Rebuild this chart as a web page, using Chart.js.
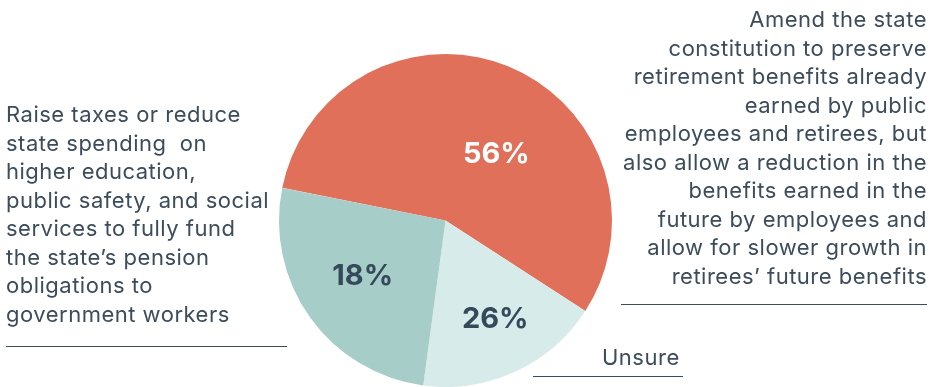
<!DOCTYPE html>
<html>
<head>
<meta charset="utf-8">
<script src="https://cdn.jsdelivr.net/npm/chart.js@4.4.1/dist/chart.umd.min.js"></script>
<style>
  html, body { margin: 0; padding: 0; background: #fff; }
  body { width: 939px; height: 387px; position: relative; overflow: hidden; font-family: 'Inter', sans-serif; color: #3c4c5b; }
  #wrap { position: absolute; left: 0; top: 0; width: 939px; height: 387px; }
  .note { position: absolute; font-size: 22px; line-height: 28.5px; letter-spacing: 0.5px; white-space: nowrap; }
  .rule { position: absolute; height: 0; border-top: 1.5px solid #3c4c5b; }
</style>
</head>
<body>
<div id="wrap"><canvas id="pieChart" width="939" height="387"></canvas></div>

<div class="note" id="noteLeft" style="left:6px; top:100px; text-align:left;"></div>
<div class="rule" style="left:6px; top:346px; width:281px;"></div>

<div class="note" id="noteRight" style="right:12px; top:5px; text-align:right;"></div>
<div class="rule" style="left:621px; top:304px; width:306px;"></div>

<div class="note" id="noteUnsure" style="left:602px; top:343px;"></div>
<div class="rule" style="left:533px; top:376px; width:150px;"></div>

<script>
// Slices in drawing order (clockwise from the upper left)
const categories = ['Amend the constitution', 'Unsure', 'Raise taxes or reduce spending'];
const shares = [56, 18, 26];
const sliceLabels = ['56%', '26%', '18%'];
const sliceColors = ['#e07059', '#d7ecea', '#a7cdc9'];
const labelColors = ['#ffffff', '#34495a', '#34495a'];

const noteLeftLines = [
    'Raise taxes or reduce',
    'state spending \u00a0on',
    'higher education,',
    'public safety, and social',
    'services to fully fund',
    'the state\u2019s pension',
    'obligations to',
    'government workers'
];
const noteRightLines = [
    'Amend the state',
    'constitution to preserve',
    'retirement benefits already',
    'earned by public',
    'employees and retirees, but',
    'also allow a reduction in the',
    'benefits earned in the',
    'future by employees and',
    'allow for slower growth in',
    'retirees\u2019 future benefits'
];
const noteUnsure = 'Unsure';

document.getElementById('noteLeft').innerHTML = noteLeftLines.join('<br>');
document.getElementById('noteRight').innerHTML = noteRightLines.join('<br>');
document.getElementById('noteUnsure').textContent = noteUnsure;

// label placement inside each slice: radius fraction and angle nudge (degrees)
const labelRadius = [0.5, 0.665, 0.6];
const labelNudge = [15.5, -2, 1.5];

const sliceLabelPlugin = {
    id: 'sliceLabels',
    afterDatasetsDraw(chart) {
        const ctx = chart.ctx;
        const meta = chart.getDatasetMeta(0);
        ctx.save();
        ctx.font = "bold 29px 'Inter', sans-serif";
        ctx.textAlign = 'center';
        ctx.textBaseline = 'middle';
        meta.data.forEach((arc, i) => {
            const p = arc.getProps(['x', 'y', 'startAngle', 'endAngle', 'outerRadius'], true);
            const mid = (p.startAngle + p.endAngle) / 2 + labelNudge[i] * Math.PI / 180;
            const r = p.outerRadius * labelRadius[i];
            ctx.fillStyle = labelColors[i];
            ctx.fillText(sliceLabels[i], p.x + Math.cos(mid) * r, p.y + Math.sin(mid) * r);
        });
        ctx.restore();
    }
};

const ctx = document.getElementById('pieChart').getContext('2d');
new Chart(ctx, {
    type: 'pie',
    data: {
        labels: categories,
        datasets: [{
            data: shares,
            backgroundColor: sliceColors,
            borderWidth: 0
        }]
    },
    options: {
        responsive: false,
        animation: false,
        rotation: 281.3,
        layout: { padding: { left: 277, right: 325, top: 54, bottom: -3 } },
        plugins: {
            legend: { display: false },
            tooltip: { enabled: false }
        }
    },
    plugins: [sliceLabelPlugin]
});
</script>
</body>
</html>
